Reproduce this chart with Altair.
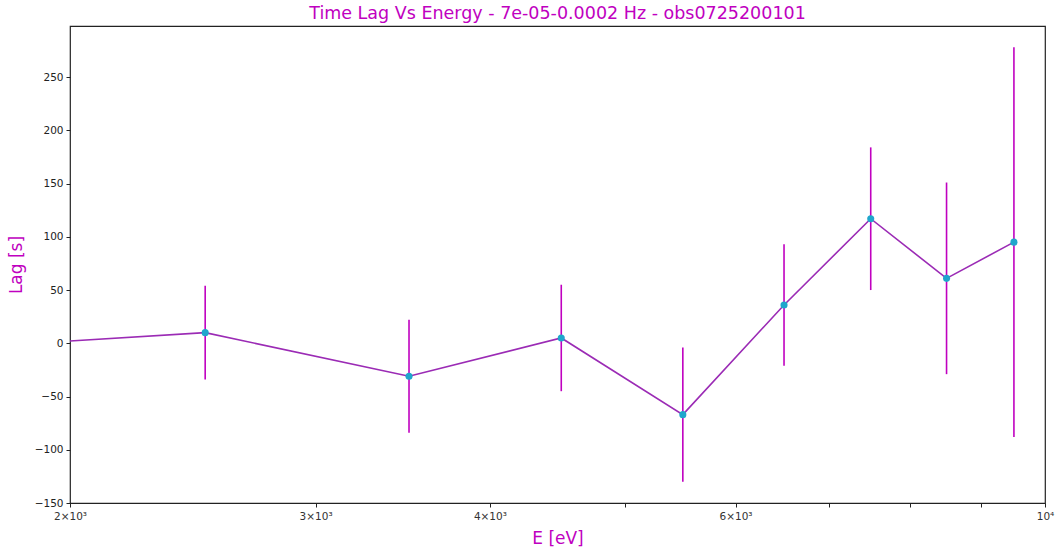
import altair as alt
import pandas as pd

energy = [1500, 2500, 3500, 4500, 5500, 6500, 7500, 8500, 9500]
lag = [-8, 10, -31, 5, -67, 36, 117, 61, 95]
err = [45, 44, 53, 50, 63, 57, 67, 90, 183]

x_ticks = [2000, 3000, 4000, 5000, 6000, 7000, 8000, 9000, 10000]
y_ticks = [-150, -100, -50, 0, 50, 100, 150, 200, 250]

df = pd.DataFrame({"E": energy, "lag": lag, "err": err})
df["lo"] = df["lag"] - df["err"]
df["hi"] = df["lag"] + df["err"]

FONT = "DejaVu Sans"
MAG = "#c000c0"

xscale = alt.Scale(type="log", domain=[2000, 10000], nice=False)
yscale = alt.Scale(domain=[-150, 298], nice=False, zero=False)

label_expr = ("datum.value == 2000 ? '2×10³' : datum.value == 3000 ? '3×10³' : "
              "datum.value == 4000 ? '4×10³' : datum.value == 6000 ? '6×10³' : "
              "datum.value == 10000 ? '10⁴' : ''")

xaxis = alt.Axis(values=x_ticks, labelExpr=label_expr, title="E [eV]", grid=False,
                 titleColor=MAG, titleFontSize=17, titleFontWeight="normal", titleFont=FONT,
                 labelFont=FONT, labelFontSize=10.5, labelColor="#333", tickColor="#222",
                 domain=False, tickSize=4, labelPadding=4, titlePadding=9,
                 labelFlush=False, labelOverlap=False)
yaxis = alt.Axis(values=y_ticks, labelExpr="replace(format(datum.value, 'd'), '-', '−')",
                 title="Lag [s]", grid=False, titleColor=MAG, titleFontSize=17,
                 titleFontWeight="normal", titleFont=FONT, labelFont=FONT, labelFontSize=10.5,
                 labelColor="#222", tickColor="#222", domain=False, tickSize=4,
                 labelPadding=3, titlePadding=9)

base = alt.Chart(df)

bars = base.mark_rule(color=MAG, strokeWidth=1.6, clip=True).encode(
    x=alt.X("E:Q", scale=xscale, axis=xaxis),
    y=alt.Y("lo:Q", scale=yscale, axis=yaxis),
    y2="hi:Q",
)
line = base.mark_line(color="#9b2bb5", strokeWidth=1.6, clip=True).encode(
    x=alt.X("E:Q", scale=xscale),
    y=alt.Y("lag:Q", scale=yscale),
)
pts = base.mark_point(filled=True, color="#1fa6cc", size=50, opacity=1, clip=True).encode(
    x=alt.X("E:Q", scale=xscale),
    y=alt.Y("lag:Q", scale=yscale),
)

chart = alt.layer(bars, line, pts).properties(
    width=975, height=477,
    title=alt.TitleParams("Time Lag Vs Energy - 7e-05-0.0002 Hz - obs0725200101",
                          color=MAG, fontSize=17.5, font=FONT, fontWeight="normal",
                          anchor="middle", offset=4),
    autosize=alt.AutoSizeParams(type="none"),
    padding={"left": 70, "top": 26, "right": 12, "bottom": 49},
).configure(background="white").configure_view(stroke="#222", strokeWidth=1.2)

chart.save("out.html", embed_options={"renderer": "svg", "actions": False})
